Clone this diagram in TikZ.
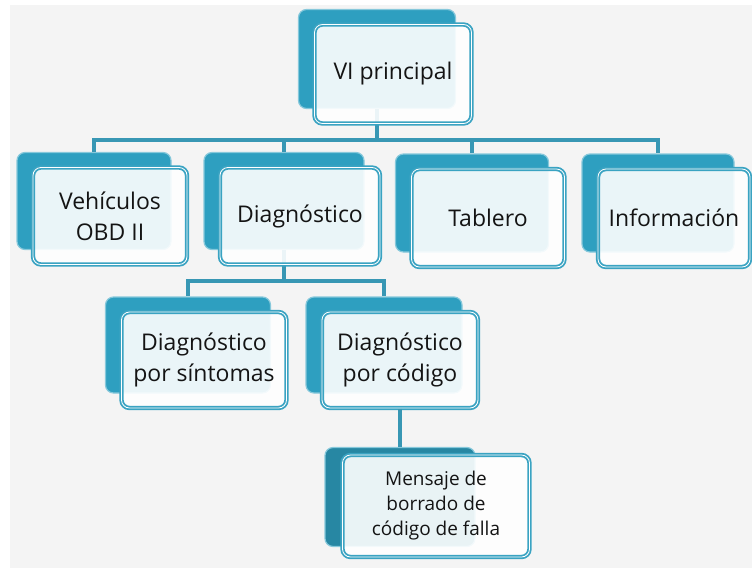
\documentclass[tikz,border=0pt]{standalone}
\usepackage{fontspec}
\setmainfont{Open Sans}
\usetikzlibrary{positioning,calc}
\definecolor{tileblue}{HTML}{2E9FC0}
\definecolor{tilerim}{HTML}{86C8DB}
\definecolor{frameblue}{HTML}{3AA3C2}
\definecolor{linkblue}{HTML}{3897B4}
\definecolor{stripegray}{HTML}{F4F4F4}
\begin{document}
\begin{tikzpicture}[x=1pt,y=-1pt,
back/.style={draw=tilerim,line width=1.2pt,fill=tileblue,rounded corners=8pt,minimum width=154pt,minimum height=97pt},
box/.style={draw=frameblue,double=white,line width=1.8pt,double distance=0.8pt,rounded corners=8pt,fill=white,fill opacity=0.9,text opacity=1,text=black!92,align=center,inner sep=2pt,minimum width=154pt,minimum height=97pt,font=\fontsize{23}{31}\selectfont},
conn/.style={draw=linkblue,line width=3.5pt}]
\useasboundingbox (0,0) rectangle (752,568);
\fill[stripegray] (10,5) rectangle (752,568);
% back tiles
\node[back,minimum width=157pt,minimum height=99pt] (vi-b) at (377,59) {};
\node[back] (veh-b) at (94,201) {};
\node[back,minimum width=160pt] (diag-b) at (284,201) {};
\node[back,minimum width=153pt,minimum height=98pt] (tab-b) at (472,203) {};
\node[back,minimum width=152pt,minimum height=98pt] (info-b) at (658,203) {};
\node[back,minimum width=165pt,minimum height=96pt] (sint-b) at (188,345) {};
\node[back,minimum width=156pt,minimum height=96pt] (cod-b) at (384,345) {};
\node[back,fill=tileblue!85!black,minimum width=150pt,minimum height=99pt] (mens-b) at (400,497) {};
% connectors
\foreach \n in {veh-b,diag-b,tab-b,info-b}
  \draw[conn] (vi-b.south) -- ++(0,31) -| (\n.north);
\foreach \n in {sint-b,cod-b}
  \draw[conn] (diag-b.south) -- ++(0,31) -| (\n.north);
% front tiles
\node[box,minimum width=157pt,minimum height=99pt] (vi) at (393,74) {VI principal};
\node[box] (veh) at (110,216) {Vehículos\\OBD II};
\node[box,minimum width=160pt] (diag) at (300,216) {Diagnóstico};
\node[box,minimum width=153pt,minimum height=98pt] (tab) at (488,218) {Tablero};
\node[box,minimum width=152pt,minimum height=98pt] (info) at (674,218) {Información};
\node[box,minimum width=165pt,minimum height=96pt] (sint) at (204,360) {Diagnóstico\\por síntomas};
\node[box,minimum width=156pt,minimum height=96pt] (cod) at (400,360) {Diagnóstico\\por código};
\draw[conn] (cod.south) -- (mens-b.north);
\node[box,minimum width=187pt,minimum height=102pt,font=\fontsize{19}{25}\selectfont] (mens) at (436,506) {Mensaje de\\borrado de\\código de falla};
\end{tikzpicture}
\end{document}
